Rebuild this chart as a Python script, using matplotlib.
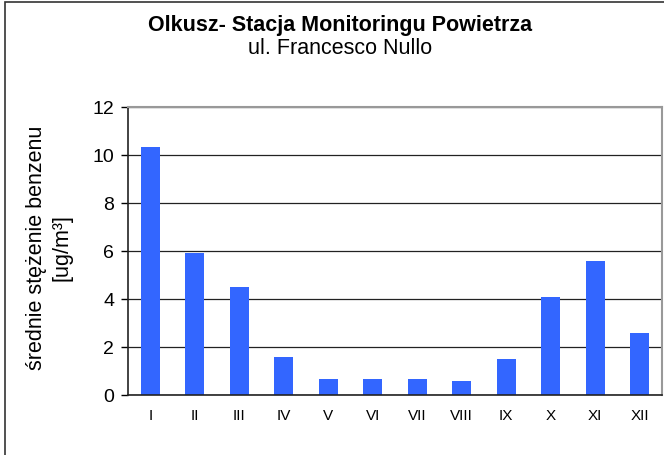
import matplotlib
matplotlib.use("Agg")
import matplotlib.pyplot as plt
from matplotlib.patches import Rectangle

plt.rcParams['font.family'] = ['Liberation Sans', 'DejaVu Sans']

months = ['I', 'II', 'III', 'IV', 'V', 'VI', 'VII', 'VIII', 'IX', 'X', 'XI', 'XII']
benzene = [10.33, 5.9, 4.5, 1.58, 0.67, 0.67, 0.67, 0.58, 1.5, 4.08, 5.58, 2.58]

W, H = 664, 455
fig = plt.figure(figsize=(W / 100, H / 100), dpi=100)
ax = fig.add_axes([128 / W, 1 - 395 / H, (662 - 128) / W, (395 - 107) / H])

x = range(len(months))
ax.bar(x, benzene, width=0.42, color='#3366FF', zorder=3)
ax.set_xlim(-0.5, len(months) - 0.5)
ax.set_ylim(0, 12)
ax.set_yticks(range(0, 13, 2))
ax.set_xticks(list(x))
ax.set_xticklabels(months, fontsize=11)
ax.tick_params(axis='x', length=0, pad=10)
ax.tick_params(axis='y', labelsize=14, length=5, width=1, direction='out', pad=5)
ax.yaxis.grid(True, color='#222222', linewidth=0.9, zorder=0)

for s in ['top', 'right']:
    ax.spines[s].set_color('#999999')
    ax.spines[s].set_linewidth(1.5)
for s in ['left', 'bottom']:
    ax.spines[s].set_color('#222222')
    ax.spines[s].set_linewidth(1.2)
ax.spines['bottom'].set_zorder(4)

fig.text(49 / W, 1 - 248 / H, 'średnie stężenie benzenu\n[ug/m³]', rotation=90,
         ha='center', va='center', multialignment='center', fontsize=15.5, linespacing=1.3)

fig.text(340 / W, 1 - 25 / H, 'Olkusz- Stacja Monitoringu Powietrza', ha='center', va='center',
         fontsize=15.5, fontweight='bold')
fig.text(340 / W, 1 - 49 / H, 'ul. Francesco Nullo', ha='center', va='center', fontsize=15.5)

fig.patches.append(Rectangle((5 / W, -0.1), 1.2, 1.1 - 2 / H, transform=fig.transFigure,
                             fill=False, edgecolor='#333333', linewidth=1.2))

fig.savefig('out.png', dpi=100)
